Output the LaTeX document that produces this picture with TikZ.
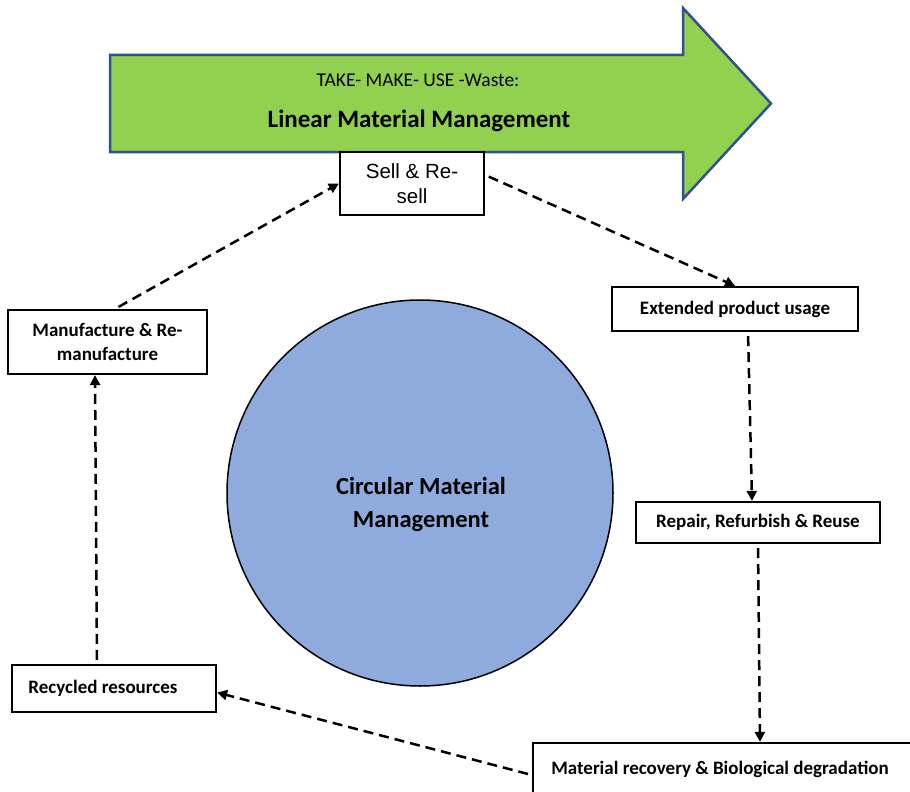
\documentclass[tikz,border=0pt]{standalone}
\usepackage{fontspec}
\setmainfont{Carlito}
\newfontfamily\arialf{Liberation Sans}
\usetikzlibrary{arrows.meta}
\definecolor{arrowgreen}{HTML}{92D050}
\definecolor{arrowblue}{HTML}{2F528F}
\definecolor{circblue}{HTML}{8FAADC}
\begin{document}
\begin{tikzpicture}[x=1pt,y=-1pt,
  box/.style={draw=black, line width=2.2pt, fill=white, inner sep=0pt, align=center,
    font=\bfseries\fontsize{19}{24}\selectfont},
  flow/.style={line width=2.5pt, dash pattern=on 10pt off 6pt,
    -{Triangle[length=10pt,width=10pt]}, shorten <=4pt}]
\useasboundingbox (0,0) rectangle (910,792);
\clip (0,0) rectangle (910,792);
% linear arrow
\draw[line width=2.5pt, draw=arrowblue, fill=arrowgreen, line join=miter]
  (110,55) -- (683,55) -- (683,8) -- (771,103.5) -- (683,199) -- (683,152) -- (110,152) -- cycle;
\node[font=\fontsize{19.5}{22}\selectfont] (take) at (418,80) {TAKE- MAKE- USE -Waste:};
\node[font=\bfseries\fontsize{25}{30}\selectfont] (linear) at (419,121) {Linear Material Management};
% circle
\node[circle, draw=black, line width=1.5pt, fill=circblue, minimum size=386pt, inner sep=0pt] (circ) at (420,493) {};
\node[align=center, font=\bfseries\fontsize{24.5}{33}\selectfont] (circtext) at (421,504)
  {Circular Material\\Management};
% boxes
\node[box, minimum width=144pt, minimum height=63pt,
  font=\arialf\fontsize{20.5}{25}\selectfont] (sell) at (412,183.5) {Sell \& Re-\\sell};
\node[box, minimum width=246pt, minimum height=44pt] (ext) at (735,309) {Extended product usage};
\node[box, minimum width=199pt, minimum height=64pt] (manu) at (107.5,342) {Manufacture \& Re-\\manufacture};
\node[box, minimum width=244pt, minimum height=41pt] (rep) at (758,522.5) {Repair, Refurbish \& Reuse};
\node[box, minimum width=204pt, minimum height=47pt] (rec) at (114,688.5) {Recycled resources\hspace*{22pt}};
\node[box, minimum width=381pt, minimum height=53pt] (mat) at (723.5,769.5) {Material recovery \& Biological degradation\hspace*{7pt}};
% connectors
\draw[flow] ([xshift=7.5pt]manu.north) -- (sell.west);
\draw[flow] ([yshift=8.5pt]sell.east) -- (ext.north);
\draw[flow] ([xshift=13pt]ext.south) -- ([xshift=-6pt]rep.north);
\draw[flow] (rep.south) -- ([xshift=36.5pt]mat.north);
\draw[flow] ([yshift=-5.5pt]mat.west) -- ([yshift=-4pt]rec.east);
\draw[flow] ([xshift=-17pt]rec.north) -- ([xshift=-12.5pt]manu.south);
\end{tikzpicture}
\end{document}
